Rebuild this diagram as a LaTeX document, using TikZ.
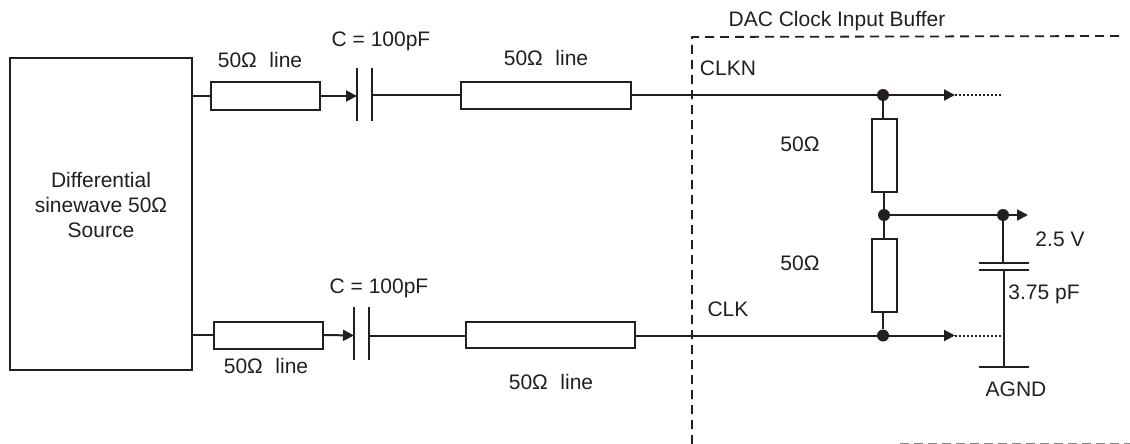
\documentclass[tikz,border=0pt]{standalone}
\usepackage{fontspec}
\setmainfont{Liberation Sans}
\usetikzlibrary{arrows.meta}
\definecolor{ink}{HTML}{231F20}
\tikzset{
  x=1pt,y=-1pt,
  every node/.style={text=ink,font=\fontsize{21}{24}\selectfont},
  wire/.style={draw=ink,line width=2pt},
  boxed/.style={draw=ink,line width=2pt,fill=white,inner sep=0pt,minimum width=0pt},
  plate/.style={draw=ink,line width=2pt},
  label/.style={inner sep=0pt,anchor=base},
  dotnode/.style={circle,fill=ink,draw=none,inner sep=0pt,minimum size=12pt},
  tip/.style={wire,-{Triangle[length=11pt,width=11pt]}},
  dots/.style={draw=ink,line width=2pt,dash pattern=on 2pt off 2pt},
  frame/.style={draw=ink,line width=1.8pt,dash pattern=on 9pt off 6pt},
}
\newcommand{\ohmline}{50\symbol{"03A9}\hspace{0.6em}line}
\begin{document}
\begin{tikzpicture}
\useasboundingbox (0,0) rectangle (1130,444);
% frame
\draw[frame] (692,444) -- (692,37) -- (1120,36);
\draw[draw=ink!55,line width=1.4pt,dash pattern=on 9pt off 5pt] (900,443.3) -- (1130,443.3);
% source
\node[boxed,minimum width=182pt,minimum height=312pt] (src) at (101,214) {};
\node[inner sep=0pt,align=center,font=\fontsize{21}{25}\selectfont] (srclabel) at (101,205) {Differential\\sinewave 50\symbol{"03A9}\\Source};
% top line
\node[boxed,minimum width=109pt,minimum height=27pt] (t1) at (265.5,96) {};
\node[boxed,minimum width=170pt,minimum height=27pt] (t2) at (546,95.5) {};
\coordinate (tc1a) at (357,68); \coordinate (tc1b) at (357,121);
\coordinate (tc2a) at (372,68); \coordinate (tc2b) at (372,121);
\coordinate (tcl) at (357,96); \coordinate (tcr) at (372,95);
\draw[plate] (tc1a) -- (tc1b);
\draw[plate] (tc2a) -- (tc2b);
\draw[wire] (src.east |- t1.west) -- (t1.west);
\draw[tip] (t1.east) -- (tcl);
\draw[wire] (tcr) -- (tcr -| t2.west);
\node[dotnode] (jt) at (883,95) {};
\draw[wire] (t2.east |- jt) -- (jt);
\coordinate (tarrow) at (955,95); \coordinate (tend) at (1002,95);
\draw[tip] (jt) -- (tarrow);
\draw[dots] (tarrow) -- (tend);
% bottom line
\node[boxed,minimum width=109pt,minimum height=27pt] (b1) at (268.5,335) {};
\node[boxed,minimum width=169pt,minimum height=26pt] (b2) at (550.5,334.5) {};
\coordinate (bc1a) at (354,307); \coordinate (bc1b) at (354,360);
\coordinate (bc2a) at (369,307); \coordinate (bc2b) at (369,360);
\coordinate (bcl) at (354,335.5); \coordinate (bcr) at (369,335.7);
\draw[plate] (bc1a) -- (bc1b);
\draw[plate] (bc2a) -- (bc2b);
\draw[wire] (src.east |- b1.west) -- (b1.west);
\draw[tip] (b1.east) -- (bcl);
\draw[wire] (bcr) -- (bcr -| b2.west);
\node[dotnode] (jb) at (883,335.5) {};
\draw[wire] (b2.east |- jb) -- (jb);
\coordinate (barrow) at (955,335.5); \coordinate (bend) at (1002,335.5);
\draw[tip] (jb) -- (barrow);
\draw[dots] (barrow) -- (bend);
% resistors
\node[boxed,minimum width=25pt,minimum height=73pt] (r1) at (884.5,155.5) {};
\node[boxed,minimum width=25pt,minimum height=73pt] (r2) at (884.5,275.5) {};
\node[dotnode] (jm) at (884,215) {};
\node[dotnode] (jc) at (1003,215) {};
\draw[wire] (jt) -- (jt |- r1.north);
\draw[wire] (jm) -- (jm |- r1.south);
\draw[wire] (jm) -- (jm |- r2.north);
\draw[wire] (jb) -- (jb |- r2.south);
\draw[wire] (jm) -- (jc);
\coordinate (mtip) at (1028,215);
\draw[tip] (jc) -- (mtip);
% capacitor and ground
\coordinate (cpl1) at (979,263); \coordinate (cpr1) at (1029,263);
\coordinate (cpl2) at (979,270); \coordinate (cpr2) at (1029,270);
\coordinate (gl) at (979,367); \coordinate (gr) at (1029,367);
\coordinate (cupper) at (1003,263); \coordinate (clower) at (1004,270); \coordinate (gm) at (1004,367);
\draw[plate] (cpl1) -- (cpr1);
\draw[plate] (cpl2) -- (cpr2);
\draw[plate] (gl) -- (gr);
\draw[wire] (jc) -- (cupper);
\draw[wire] (clower) -- (gm);
% labels
\node[label] (l1) at (260,67) {\ohmline};
\node[label] (l2) at (546,66) {\ohmline};
\node[label] (l3) at (266,373) {\ohmline};
\node[label] (l4) at (551,389) {\ohmline};
\node[label] (c1) at (381,47) {C = 100pF};
\node[label] (c2) at (379,293) {C = 100pF};
\node[label] (title) at (837,27) {DAC Clock Input Buffer};
\node[label] (clkn) at (728,76) {CLKN};
\node[label] (clk) at (728,316) {CLK};
\node[label] (o1) at (800,151) {50\symbol{"03A9}};
\node[label] (o2) at (800,270) {50\symbol{"03A9}};
\node[label] (v) at (1060,246) {2.5 V};
\node[label] (pf) at (1044,299) {3.75 pF};
\node[label] (agnd) at (1016,396) {AGND};
\end{tikzpicture}
\end{document}
